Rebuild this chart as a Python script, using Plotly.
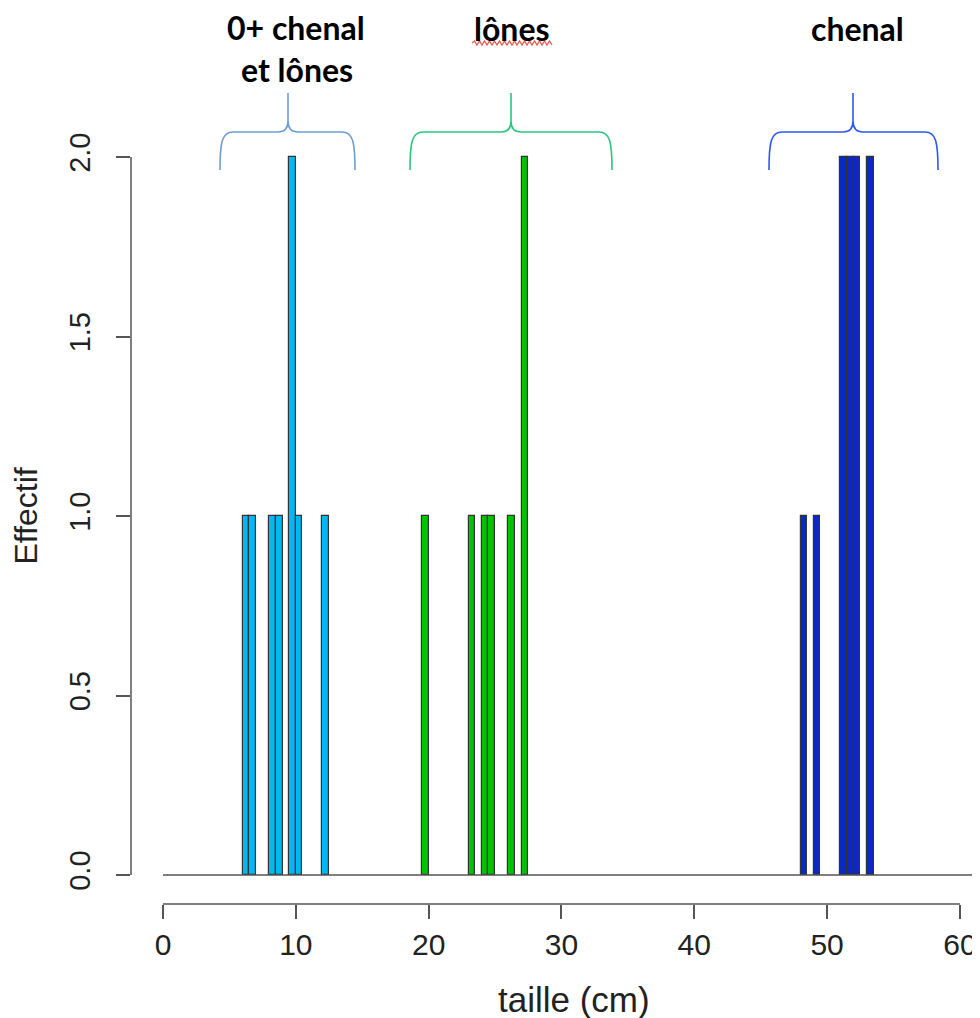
import plotly.graph_objects as go

# histogram bins (left edge, cm) and counts, 0.5 cm wide bins
BIN_WIDTH = 0.5
JUV_EDGES = [6, 6.5, 8, 8.5, 9.5, 10, 12]
JUV_COUNTS = [1, 1, 1, 1, 2, 1, 1]
LONES_EDGES = [19.5, 23, 24, 24.5, 26, 27]
LONES_COUNTS = [1, 1, 1, 1, 1, 2]
CHENAL_EDGES = [48, 49, 51, 51.5, 52, 53]
CHENAL_COUNTS = [1, 1, 2, 2, 2, 2]

X_TICKS = [0, 10, 20, 30, 40, 50, 60]
Y_TICKS = [0, 0.5, 1.0, 1.5, 2.0]

# the page body has an 8px margin, so the figure is drawn 8px in from the corner
BODY = 8
W, H = 980 - BODY, 1018 - BODY
# plot area in screen pixels
PL, PR, PT, PB = 131, 980, 128, 904
ML, MR, MT, MB = PL - BODY, 0, PT - BODY, 1018 - PB
X_RANGE = [-2.41, 61.51]
Y_RANGE = [-0.0808, 2.0808]


def px(x):
    return (x - PL) / (PR - PL)


def py(y):
    return (PB - y) / (PB - PT)


def brace_path(xl, xm, xr, ytop=132, yend=170, ypeak=93, ycusp=121):
    pts = [
        ("M", [(xl, yend)]),
        ("C", [(xl, 142), (xl + 2, ytop), (xl + 13, ytop)]),
        ("L", [(xm - 10, ytop)]),
        ("C", [(xm - 3, ytop), (xm, 128), (xm, ycusp)]),
        ("L", [(xm, ypeak)]),
        ("M", [(xm, ycusp)]),
        ("C", [(xm, 128), (xm + 3, ytop), (xm + 10, ytop)]),
        ("L", [(xr - 13, ytop)]),
        ("C", [(xr - 2, ytop), (xr, 142), (xr, yend)]),
    ]
    out = []
    for cmd, coords in pts:
        out.append(cmd + " ".join(f"{px(a):.5f},{py(b):.5f}" for a, b in coords))
    return " ".join(out)


fig = go.Figure()

for edges, counts, color in [
    (JUV_EDGES, JUV_COUNTS, "#00B8F2"),
    (LONES_EDGES, LONES_COUNTS, "#00C400"),
    (CHENAL_EDGES, CHENAL_COUNTS, "#0A28C8"),
]:
    fig.add_trace(
        go.Bar(
            x=edges,
            y=counts,
            width=BIN_WIDTH,
            offset=0,
            marker=dict(color=color, line=dict(color="#333333", width=1.2)),
            showlegend=False,
        )
    )

# R style axis lines, only over the tick range
fig.add_shape(type="line", xref="x", yref="paper", x0=0, x1=60, y0=0, y1=0,
              line=dict(color="#555555", width=1.5))
fig.add_shape(type="line", xref="paper", yref="y", x0=0, x1=0, y0=0, y1=2,
              line=dict(color="#555555", width=1.5))
# baseline
fig.add_shape(type="line", xref="x", yref="y", x0=0, x1=61.3, y0=0, y1=0,
              line=dict(color="#555555", width=1.5))

# braces over the groups
for (xl, xm, xr), color in [
    ((220, 288, 355), "#6C9ED6"),
    ((410, 511, 612), "#2CC57E"),
    ((769, 853, 938), "#2A5AF4"),
]:
    fig.add_shape(type="path", xref="paper", yref="paper", path=brace_path(xl, xm, xr),
                  line=dict(color=color, width=1.6))

# spell-check squiggle under "lônes"
sq = [f"M{px(472):.5f},{py(43):.5f}"]
xx, up = 472, True
while xx < 552:
    xx += 2.5
    sq.append(f"L{px(xx):.5f},{py(41 if up else 45):.5f}")
    up = not up
fig.add_shape(type="path", xref="paper", yref="paper", path=" ".join(sq),
              line=dict(color="#E8564A", width=1.2))

label_font = dict(family="Lato, Open Sans, sans-serif", size=32, color="black")
for text, xc, yc in [
    ("<b>0+ chenal</b>", 296, 27),
    ("<b>et lônes</b>", 297, 69),
    ("<b>lônes</b>", 512, 28),
    ("<b>chenal</b>", 857, 28),
]:
    fig.add_annotation(text=text, xref="paper", yref="paper", x=px(xc), y=py(yc),
                       showarrow=False, font=label_font, xanchor="center", yanchor="middle")

axis_font = dict(family="Liberation Sans, Arial, sans-serif", color="#222222")

# x axis title, placed like R's mtext
fig.add_annotation(text="taille (cm)", xref="paper", yref="paper", x=px(574), y=py(999),
                   showarrow=False, font=dict(size=35, **axis_font),
                   xanchor="center", yanchor="middle")

fig.update_layout(
    width=W,
    height=H,
    margin=dict(l=ML, r=MR, t=MT, b=MB),
    plot_bgcolor="white",
    paper_bgcolor="white",
    barmode="overlay",
    bargap=0,
    xaxis=dict(
        range=X_RANGE,
        tickvals=X_TICKS,
        ticks="outside",
        ticklen=14,
        tickwidth=1.5,
        tickcolor="#555555",
        showline=False,
        showgrid=False,
        zeroline=False,
        tickfont=dict(size=30, **axis_font),
        ticklabelstandoff=0,
    ),
    yaxis=dict(
        range=Y_RANGE,
        tickvals=Y_TICKS,
        tickformat=".1f",
        tickangle=-90,
        ticks="outside",
        ticklen=14,
        tickwidth=1.5,
        tickcolor="#555555",
        showline=False,
        showgrid=False,
        zeroline=False,
        tickfont=dict(size=29, **axis_font),
        ticklabelstandoff=14,
        title=dict(text="Effectif", font=dict(size=32, **axis_font), standoff=22),
    ),
)

fig.write_html("out.html")
